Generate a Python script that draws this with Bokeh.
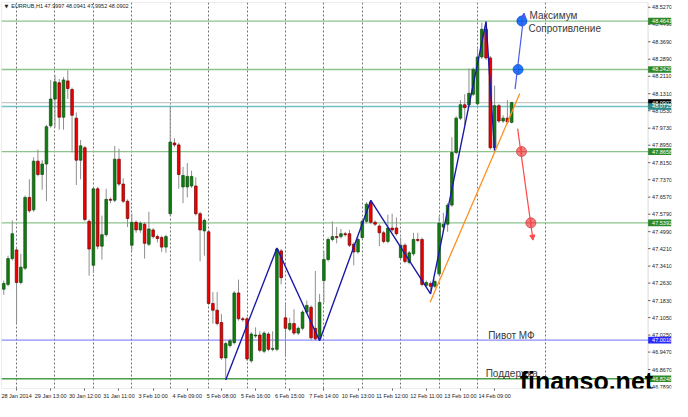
from bokeh.plotting import figure
from bokeh.models import (Range1d, FixedTicker, Label, Arrow, NormalHead,
                          ColumnDataSource, BoxAnnotation)
from bokeh.core.properties import value
from bokeh.embed import file_html
from bokeh.resources import INLINE

# ---------------- data (EURRUB, H1) ----------------
opens = [
    47.2353, 47.2572, 47.3755, 47.4149, 47.2660, 47.3317, 47.6557, 47.5987, 47.8220, 47.7607,
    47.8089, 47.9840, 48.1066, 48.1811, 48.0234, 48.1898, 48.1504, 48.0191, 47.8264, 47.8833,
    47.5462, 47.3448, 47.6951, 47.4324, 47.4849, 47.6469, 47.6425, 47.8308, 47.7170, 47.6382,
    47.4368, 47.5418, 47.5068, 47.5331, 47.4412, 47.5068, 47.4762, 47.4718, 47.4280, 47.5812,
    47.9052, 47.8965, 47.7039, 47.7039, 47.7082, 47.7082, 47.5812, 47.5024, 47.4981, 47.1697,
    47.1390, 47.0821, 46.9202, 46.9771, 46.9902, 47.2178, 47.0996, 47.0996, 46.9070, 47.0209,
    47.0252, 46.9508, 47.0296, 46.9596, 46.9596, 47.4105, 47.1040, 47.0515, 47.0778, 47.0340,
    47.0559, 47.1303, 47.1522, 47.0559, 47.0077, 47.2748, 47.3711, 47.4630, 47.4762, 47.4762,
    47.4893, 47.4893, 47.4412, 47.4061, 47.4718, 47.5462, 47.6338, 47.5418, 47.5243, 47.4937,
    47.4543, 47.5156, 47.5156, 47.3799, 47.4368, 47.3580, 47.3974, 47.4630, 47.4630, 47.2529,
    47.2616, 47.2485, 47.3055, 47.5199, 47.5331, 47.6206, 47.8615, 48.0191, 48.0804, 48.0804,
    48.1285, 48.0847, 48.2993, 48.4263, 48.2949, 47.8833, 48.0760, 48.0059, 48.0191, 47.9997,
]
highs = [
    47.2748, 47.3886, 47.5506, 47.4280, 47.3974, 47.6645, 47.7389, 47.8396, 47.8746, 47.8264,
    47.9884, 48.1942, 48.2161, 48.1986, 48.2073, 48.2380, 48.1592, 48.0453, 47.9184, 47.8921,
    47.5549, 47.7039, 47.7039, 47.5724, 47.6951, 47.6557, 47.8921, 47.8790, 47.7432, 47.6469,
    47.5812, 47.5506, 47.5462, 47.5418, 47.5900, 47.5156, 47.4849, 47.4805, 47.4849, 48.0760,
    47.9271, 47.9052, 47.7958, 47.8133, 47.7783, 47.7476, 47.5900, 47.5593, 47.5068, 47.2222,
    47.2222, 47.1215, 46.9946, 47.0077, 47.2266, 47.2791, 47.1084, 47.1084, 47.0384, 47.0602,
    47.0427, 47.0427, 47.0384, 47.0427, 47.4236, 47.4193, 47.1653, 47.1040, 47.1434, 47.0646,
    47.1390, 47.1828, 47.1609, 47.3186, 47.2135, 47.4105, 47.4718, 47.5462, 47.5199, 47.5112,
    47.4981, 47.5068, 47.4499, 47.4718, 47.5549, 47.6338, 47.6425, 47.5506, 47.5331, 47.5024,
    47.5768, 47.5812, 47.5637, 47.4718, 47.4455, 47.4105, 47.4937, 47.4937, 47.4718, 47.2748,
    47.2704, 47.2791, 47.5681, 47.5856, 47.6294, 47.9315, 48.0278, 48.1023, 48.1285, 48.2467,
    48.2511, 48.3387, 48.4569, 48.4613, 48.3037, 48.1679, 48.0847, 48.0322, 48.1023, 48.0941,
]
lows = [
    47.2091, 47.2485, 47.3667, 47.0778, 47.2572, 47.3230, 47.5856, 47.5900, 47.7520, 47.6907,
    47.6382, 47.9753, 47.9753, 47.9665, 47.9665, 48.1066, 47.8615, 47.7126, 47.7389, 47.5462,
    47.2967, 47.3098, 47.4193, 47.3711, 47.4762, 47.6294, 47.6338, 47.7082, 47.6294, 47.5199,
    47.4105, 47.4937, 47.4937, 47.3755, 47.4324, 47.4674, 47.4499, 47.4061, 47.4018, 47.5724,
    47.8877, 47.6951, 47.6294, 47.6557, 47.6995, 47.5724, 47.3624, 47.3886, 47.1609, 47.0778,
    47.0690, 46.9114, 46.8195, 46.9683, 46.9815, 47.0909, 47.0865, 46.9070, 46.8983, 47.0121,
    46.9464, 46.9421, 46.9508, 46.9508, 46.9508, 47.2572, 46.9246, 47.0427, 47.0252, 47.0252,
    47.0471, 47.1215, 47.0033, 46.9990, 46.9990, 47.1740, 47.3624, 47.4543, 47.4455, 47.4674,
    47.4762, 47.4280, 47.3448, 47.3974, 47.4630, 47.5374, 47.5331, 47.5243, 47.4324, 47.4455,
    47.4455, 47.4981, 47.4805, 47.3711, 47.3536, 47.3492, 47.3886, 47.4499, 47.2485, 47.2441,
    47.2135, 47.2397, 47.2967, 47.4981, 47.4981, 47.6119, 47.8527, 48.0103, 47.9884, 48.0716,
    48.1198, 48.0760, 48.2905, 48.2861, 47.8746, 47.8702, 47.9972, 47.9972, 47.9928, 47.9952,
]
closes = [
    47.2616, 47.3755, 47.4893, 47.2660, 47.3361, 47.6557, 47.5944, 47.8220, 47.7607, 47.8089,
    47.9797, 48.1066, 48.1854, 48.0234, 48.1942, 48.1548, 48.0322, 47.8264, 47.8921, 47.5549,
    47.4193, 47.6951, 47.4324, 47.4849, 47.6469, 47.6425, 47.8308, 47.7170, 47.6382, 47.5593,
    47.5418, 47.5068, 47.5374, 47.4455, 47.5112, 47.4762, 47.4674, 47.4280, 47.4762, 47.9096,
    47.8965, 47.7607, 47.7564, 47.7520, 47.7520, 47.5812, 47.5068, 47.5506, 47.1697, 47.1390,
    47.0778, 46.9202, 46.9858, 46.9990, 47.2178, 47.0996, 47.0953, 46.9158, 47.0296, 47.0252,
    46.9552, 47.0340, 46.9596, 46.9639, 47.4193, 47.2879, 47.0559, 47.0778, 47.0340, 47.0559,
    47.1303, 47.1609, 47.0121, 47.0077, 47.1740, 47.3711, 47.4630, 47.4762, 47.4718, 47.4893,
    47.4849, 47.4368, 47.4061, 47.4630, 47.5462, 47.6250, 47.5418, 47.5331, 47.4937, 47.4543,
    47.5156, 47.5068, 47.4893, 47.4368, 47.3624, 47.4018, 47.4630, 47.4587, 47.2572, 47.2660,
    47.2485, 47.2704, 47.5374, 47.5331, 47.6206, 47.8615, 48.0191, 48.0804, 48.0672, 48.1329,
    48.2424, 48.2993, 48.4263, 48.2949, 47.8833, 48.0760, 48.0059, 48.0191, 48.0016, 48.0902,
]

# time axis labels (every 8 bars) and day separators
time_labels = ["28 Jan 2014", "29 Jan 13:00", "30 Jan 12:00", "31 Jan 11:00", "3 Feb 10:00",
               "4 Feb 09:00", "5 Feb 08:00", "5 Feb 16:00", "6 Feb 15:00", "7 Feb 14:00",
               "10 Feb 13:00", "11 Feb 12:00", "12 Feb 11:00", "13 Feb 10:00", "14 Feb 09:00"]
time_label_bars = [3 + 8 * k for k in range(len(time_labels))]
separator_bars = [3, 12, 21, 30, 39, 48, 57, 66, 75, 84, 93, 102, 111, 127]

price_ticks = [48.5270, 48.4490, 48.3690, 48.2890, 48.2110, 48.1310, 48.0530, 47.9730,
               47.8950, 47.8150, 47.7370, 47.6570, 47.5790, 47.4990, 47.4210, 47.3410,
               47.2630, 47.1830, 47.1050, 47.0250, 46.9470, 46.8670, 46.7890]

# horizontal levels: price, line colour, price-box colour
level_prices = [48.4641, 48.2420, 48.0902, 48.0725, 47.8658, 47.5392, 47.0018, 46.8248]
level_lines = ["#8cc48c", "#8cc48c", "#c8c8c8", "#74c0c4", "#8cc48c", "#8cc48c", "#8c8cff", "#4a9e4a"]
level_boxes = ["#2a8a2a", "#2a8a2a", "#000000", "#2a8a8a", "#2a8a2a", "#2a8a2a", "#2828ff", "#2a8a2a"]

# zigzag pivots (bar index, price)
zz_bars = [52, 64, 74, 86, 100, 113, 115]
zz_prices = [46.8195, 47.4236, 46.9990, 47.6425, 47.2135, 48.4613, 47.8702]

# orange trend line
trend_bars = [99.9, 120.9]
trend_prices = [47.1754, 48.1316]

# forecast arrows and targets
up_bars = [119.8, 121.9]
up_prices = [48.152, 48.501]
up_target_bars = [121.4, 120.5]
up_target_prices = [48.4641, 48.2420]
dn_bars = [120.4, 124.0]
dn_prices = [47.971, 47.460]
dn_target_bars = [121.3, 123.5]
dn_target_prices = [47.8658, 47.5392]

# ---------------- figure ----------------
X0, X1 = -0.53, 150.96        # chart area (bars)
XR = 156.45                   # right end incl. price scale zone
Y0, Y1 = 46.7801, 48.549
p = figure(width=672, height=401, output_backend="svg", toolbar_location=None,
           x_range=Range1d(X0, XR), y_range=Range1d(Y0, Y1),
           y_axis_location=None,
           min_border_left=1, min_border_right=1, min_border_top=2, min_border_bottom=0)
p.background_fill_color = "white"
p.border_fill_color = "white"
p.outline_line_color = None

FONT = "Liberation Sans"

# x axis
p.xaxis.ticker = FixedTicker(ticks=time_label_bars)
p.xaxis.major_label_overrides = {b: t for b, t in zip(time_label_bars, time_labels)}
p.xaxis.major_label_text_font = FONT
p.xaxis.major_label_text_font_size = "5.5px"
p.xaxis.major_label_text_color = "#222222"
p.xaxis.major_tick_out = 2
p.xaxis.major_tick_in = 0
p.xaxis.minor_tick_line_color = None
p.xaxis.axis_line_color = None
p.xaxis.major_tick_line_color = "#606060"
p.xaxis.major_label_standoff = 2

p.ygrid.visible = False
p.xgrid.ticker = FixedTicker(ticks=separator_bars)
p.xgrid.grid_line_color = "#707070"
p.xgrid.grid_line_dash = "2 2"
p.xgrid.grid_line_width = 1

# price scale (right side of the chart area)
n_t = len(price_ticks)
p.segment(x0=[X1] * n_t, x1=[X1 + 0.55] * n_t, y0=price_ticks, y1=price_ticks,
          line_color="#606060", line_width=1)
p.text(x=[X1 + 0.95] * n_t, y=price_ticks, text=[f"{t:.4f}" for t in price_ticks],
       text_font=value(FONT), text_font_size=value("5.5px"), text_color="#222222",
       text_align="left", text_baseline="middle")

# level lines
n_l = len(level_prices)
p.segment(x0=[X0] * n_l, x1=[X1] * n_l, y0=level_prices, y1=level_prices,
          line_color=level_lines, line_width=1.3)

# candles
idx = list(range(len(opens)))
up = [c >= o for o, c in zip(opens, closes)]
src = ColumnDataSource(dict(
    i=idx, o=opens, h=highs, l=lows, c=closes,
    top=[max(o, c) for o, c in zip(opens, closes)],
    bot=[min(o, c) for o, c in zip(opens, closes)],
    fill=["#127d12" if u else "#f00000" for u in up],
    edge=["#0b4d0b" if u else "#700000" for u in up],
))
p.segment(x0="i", y0="h", x1="i", y1="l", source=src, line_color="#8f8f8f", line_width=1)
p.vbar(x="i", top="top", bottom="bot", width=0.62, source=src,
       fill_color="fill", line_color="edge", line_width=0.7)

# zigzag
p.line(zz_bars, zz_prices, line_color="#1a1aa8", line_width=1.4)
# orange trend
p.line(trend_bars, trend_prices, line_color="#ff9020", line_width=1.3)

# forecast arrows
p.add_layout(Arrow(x_start=up_bars[0], y_start=up_prices[0], x_end=up_bars[1], y_end=up_prices[1],
                   line_color="#4a5cf0", line_width=1.2,
                   end=NormalHead(size=5, fill_color="#4a5cf0", line_color="#4a5cf0")))
p.add_layout(Arrow(x_start=dn_bars[0], y_start=dn_prices[0], x_end=dn_bars[1], y_end=dn_prices[1],
                   line_color="#ff4848", line_width=1.2,
                   end=NormalHead(size=5, fill_color="#ff4848", line_color="#ff4848")))
p.scatter(up_target_bars, up_target_prices, marker="circle_cross", size=10,
          fill_color="#1f78ff", line_color="#0b55c8", line_width=0.8)
p.scatter(dn_target_bars, dn_target_prices, marker="circle_cross", size=10,
          fill_color="#f06868", fill_alpha=0.85, line_color="#d04848", line_width=0.8)

# chart border
p.add_layout(BoxAnnotation(right=X1, fill_color=None, line_color="#808080", line_width=1))

# level value boxes on the price scale
box_half = 0.0152
p.quad(left=[X1] * n_l, right=[XR] * n_l,
       bottom=[lv - box_half for lv in level_prices], top=[lv + box_half for lv in level_prices],
       fill_color=level_boxes, line_color=None)
p.text(x=[X1 + 0.95] * n_l, y=level_prices, text=[f"{lv:.4f}" for lv in level_prices],
       text_font=value(FONT), text_font_size=value("5.5px"), text_color="white",
       text_align="left", text_baseline="middle")

# texts
txt_col = "#3a3a3a"
p.add_layout(Label(x=123.2, y=48.4876, text="Максимум", text_font=FONT, text_font_size="10px",
                   text_color=txt_col, text_baseline="middle"))
p.add_layout(Label(x=122.95, y=48.4306, text="Сопротивление", text_font=FONT, text_font_size="10px",
                   text_color=txt_col, text_baseline="middle"))
p.add_layout(Label(x=113.5, y=47.0209, text="Пивот МФ", text_font=FONT, text_font_size="10px",
                   text_color=txt_col, text_baseline="middle"))
p.add_layout(Label(x=112.9, y=46.8501, text="Поддержка", text_font=FONT, text_font_size="10px",
                   text_color=txt_col, text_baseline="middle"))
p.add_layout(Label(x=0.15, y=48.5313, text="▼", text_font="DejaVu Sans", text_font_size="5px",
                   text_color="#222222", text_baseline="middle"))
p.add_layout(Label(x=1.75, y=48.5313, text="EURRUB,H1  47.9997 48.0941 47.9952 48.0902",
                   text_font=FONT, text_font_size="5.5px", text_color="#222222",
                   text_baseline="middle"))
p.add_layout(Label(x=120.9, y=46.8151, text="finanso.net", text_font=FONT, text_font_size="25px",
                   text_font_style="bold", text_color="black", text_baseline="alphabetic"))

open("out.html", "w").write(file_html(p, INLINE))
